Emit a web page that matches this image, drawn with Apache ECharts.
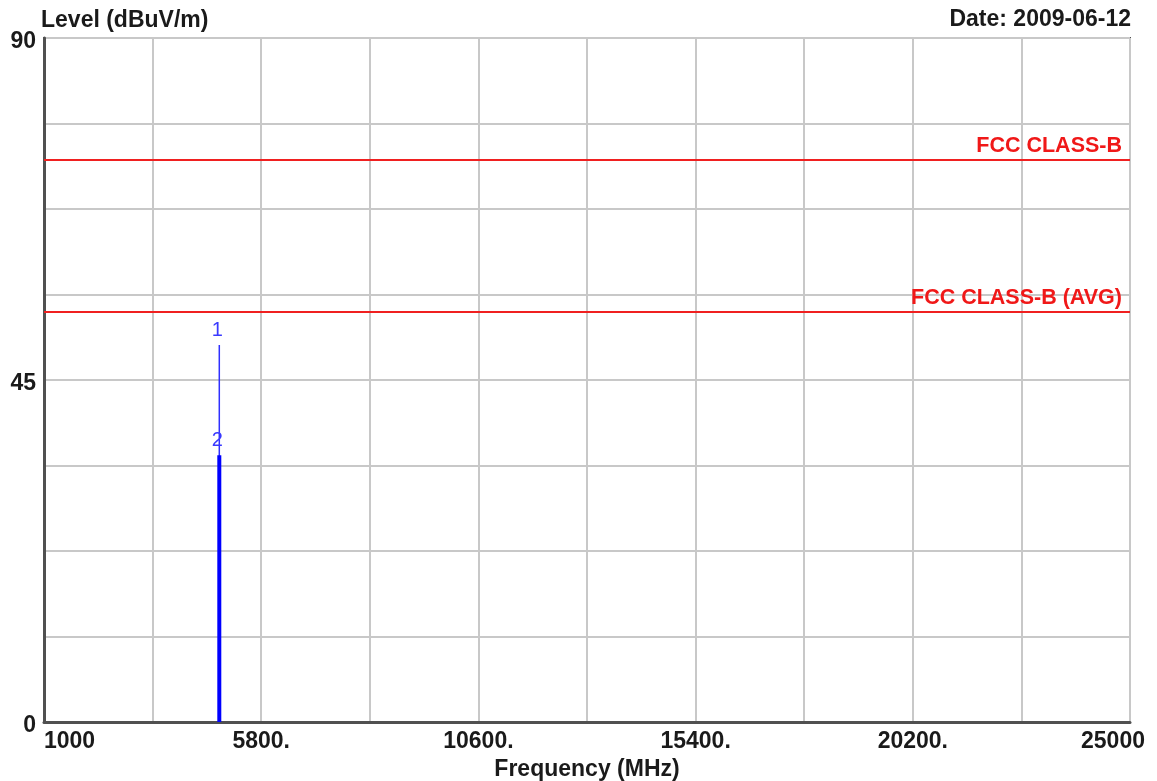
<!DOCTYPE html>
<html>
<head>
<meta charset="utf-8">
<script src="https://cdn.jsdelivr.net/npm/echarts@6/dist/echarts.min.js"></script>
<style>
  html, body { margin: 0; padding: 0; background: #fff; }
  #chart { width: 1157px; height: 781px; }
</style>
</head>
<body>
<div id="chart"></div>
<script>
// Radiated emission scan, 1 GHz - 25 GHz
const FREQ_START = 1000;
const FREQ_END = 25000;
const FREQ_STEP = 2400;
const LEVEL_MIN = 0;
const LEVEL_MAX = 90;
const LEVEL_STEP = 11.25;

const yTickLabels = [0, 45, 90];
const xTickLabels = ['1000', '5800.', '10600.', '15400.', '20200.', '25000'];
const xTickValues = [1000, 5800, 10600, 15400, 20200, 25000];

// Emission spikes: frequency (MHz), level (dBuV/m)
const peakFreq = [4874];
const peakLevel = [49.6];
const avgFreq = [4874];
const avgLevel = [35.1];
const markerNames = ['1', '2'];

// Limit lines (dBuV/m)
const limitNames = ['FCC CLASS-B', 'FCC CLASS-B (AVG)'];
const limitLevels = [74, 54];

const FONT = '"Liberation Sans", Arial, sans-serif';
const TXT = '#1a1a1a';
const FS = 23;
const toAxis = f => f - FREQ_START; // x axis counts from the start frequency

function spike(freqs, levels, marker) {
  const data = [];
  freqs.forEach((f, i) => {
    data.push({ value: [toAxis(f), 0], label: { show: false } });
    data.push({
      value: [toAxis(f), levels[i]],
      label: {
        show: true, position: 'top', distance: 5, offset: [-2, 0],
        formatter: marker, color: '#3a3aff',
        fontFamily: FONT, fontSize: 20
      }
    });
  });
  return data;
}

const chart = echarts.init(document.getElementById('chart'));
chart.setOption({
  animation: false,
  backgroundColor: '#ffffff',
  title: [
    {
      text: 'Level (dBuV/m)',
      left: 41, top: 9, padding: 0,
      textStyle: { fontFamily: FONT, fontSize: FS, fontWeight: 'bold', color: TXT }
    },
    {
      text: 'Date: 2009-06-12',
      right: 26, top: 8, padding: 0,
      textStyle: { fontFamily: FONT, fontSize: FS, fontWeight: 'bold', color: TXT }
    }
  ],
  grid: {
    left: 44, right: 27, top: 38, bottom: 59,
    outerBoundsMode: 'none',
    containLabel: false,
    show: true, borderColor: '#505050', borderWidth: 2
  },
  xAxis: {
    type: 'value',
    min: 0, max: FREQ_END - FREQ_START, interval: FREQ_STEP,
    name: 'Frequency (MHz)', nameLocation: 'middle', nameGap: 36,
    nameTextStyle: { fontFamily: FONT, fontSize: FS, fontWeight: 'bold', color: TXT },
    axisLine: { lineStyle: { color: '#505050', width: 3 } },
    axisTick: { show: false },
    splitLine: { lineStyle: { color: '#c8c8c8', width: 2 } },
    axisLabel: {
      margin: 8,
      fontFamily: FONT, fontSize: FS, fontWeight: 'bold', color: TXT,
      alignMinLabel: 'left',
      formatter: v => {
        const i = xTickValues.indexOf(v + FREQ_START);
        if (i < 0) return '';
        return i === xTickLabels.length - 1 ? '{last|' + xTickLabels[i] + '}' : xTickLabels[i];
      },
      rich: {
        last: { fontFamily: FONT, fontSize: FS, fontWeight: 'bold', color: TXT, padding: [0, 34, 0, 0] }
      }
    }
  },
  yAxis: {
    type: 'value',
    min: LEVEL_MIN, max: LEVEL_MAX, interval: LEVEL_STEP,
    axisLine: { show: true, lineStyle: { color: '#505050', width: 3 } },
    axisTick: { show: false },
    splitLine: { lineStyle: { color: '#c8c8c8', width: 2 } },
    axisLabel: {
      margin: 8,
      formatter: v => (yTickLabels.indexOf(v) >= 0 ? '{v|' + v + '}' : ''),
      rich: {
        v: { fontFamily: FONT, fontSize: FS, fontWeight: 'bold', color: TXT, padding: [7, 0, 0, 0] }
      }
    }
  },
  series: [
    {
      name: 'Peak',
      type: 'line',
      data: spike(peakFreq, peakLevel, markerNames[0]),
      symbol: 'circle', symbolSize: 0.01, showSymbol: true, showAllSymbol: true,
      itemStyle: { color: '#3030ff' },
      lineStyle: { color: '#3030ff', width: 1.5 },
      z: 3,
      markLine: {
        silent: true,
        symbol: 'none',
        lineStyle: { color: '#f02020', width: 2, type: 'solid' },
        label: {
          position: 'insideEndTop', distance: [8, 3],
          fontFamily: FONT, fontSize: 21.5, fontWeight: 'bold', color: '#f01818',
          formatter: p => p.name
        },
        data: limitNames.map((n, i) => ({ name: n, yAxis: limitLevels[i] }))
      }
    },
    {
      name: 'Average',
      type: 'line',
      data: spike(avgFreq, avgLevel, markerNames[1]),
      symbol: 'circle', symbolSize: 0.01, showSymbol: true, showAllSymbol: true,
      itemStyle: { color: '#0000ff' },
      lineStyle: { color: '#0000ff', width: 4 },
      z: 4
    }
  ]
});
</script>
</body>
</html>
